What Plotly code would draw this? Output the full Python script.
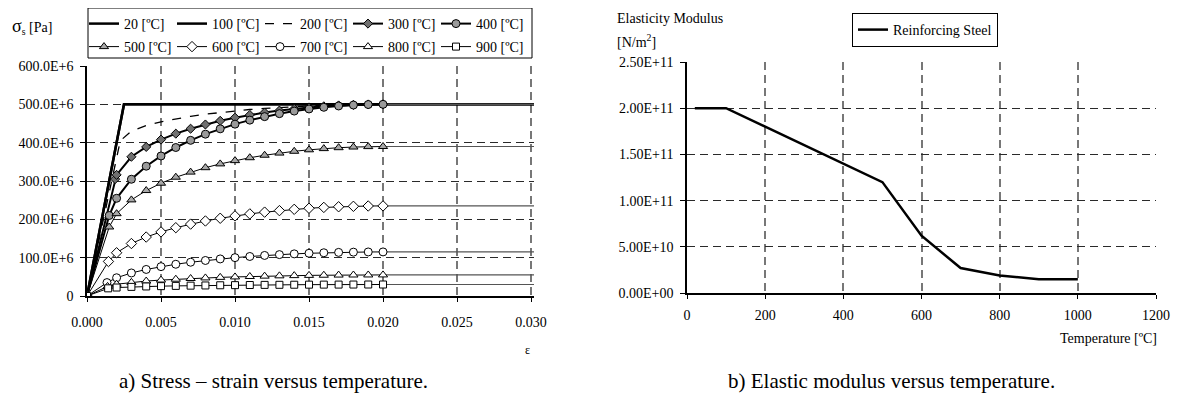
import plotly.graph_objects as go

# ---------------- data: stress-strain (a) ----------------
TEMPS = ["20", "100", "200", "300", "400", "500", "600", "700", "800", "900"]
STRAIN_CURVE = [0.002, 0.003, 0.004, 0.005, 0.006, 0.007, 0.008, 0.009, 0.010,
                0.011, 0.012, 0.013, 0.014, 0.015, 0.016, 0.017, 0.018, 0.019, 0.020]
STRAIN_END = 0.0302

# 20 / 100 ºC (linear-elastic then plateau), MPa
STRAIN_20 = [0.0, 0.0025, 0.0302]
STRESS_20 = [0.0, 500.0, 500.0]
STRAIN_100 = [0.0, 0.0025, 0.0302]
STRESS_100 = [0.0, 500.0, 500.0]

# 200 ºC (dashed, no markers)
STRAIN_200 = [0.0, 0.00225, 0.003, 0.004, 0.005, 0.006, 0.007, 0.008, 0.009, 0.010,
              0.011, 0.012, 0.013, 0.014, 0.015, 0.016, 0.017, 0.018, 0.019, 0.020, 0.0302]
STRESS_200 = [0.0, 405.0, 430.3, 444.5, 454.5, 462.3, 468.8, 474.2, 478.9, 483.0,
              486.5, 489.5, 492.1, 494.2, 496.0, 497.5, 498.6, 499.4, 499.8, 500.0, 500.0]

# proportional-limit strains
EPS_P_300 = 0.0019
EPS_P_400 = 0.0015
EPS_P_500 = 0.0015
EPS_P_600 = 0.00145
EPS_P_700 = 0.00135
EPS_P_800 = 0.00139
EPS_P_900 = 0.00143

STRESS_300 = [0, 305, 316.0, 363.2, 388.9, 408.0, 423.5, 436.4, 447.4, 457.0, 465.2,
              472.3, 478.5, 483.7, 488.2, 491.9, 494.8, 497.1, 498.7, 499.7, 500.0]
STRESS_400 = [0, 210, 254.9, 304.6, 338.6, 365.3, 387.4, 406.1, 422.2, 436.1, 448.3,
              458.8, 467.9, 475.7, 482.4, 487.9, 492.3, 495.7, 498.1, 499.5, 500.0]
STRESS_500 = [0, 180, 214.7, 250.7, 275.1, 294.2, 309.9, 323.2, 334.7, 344.6, 353.2,
              360.7, 367.2, 372.8, 377.5, 381.4, 384.5, 386.9, 388.6, 389.7, 390.0]
STRESS_600 = [0, 90, 112.8, 136.9, 153.8, 167.2, 178.2, 187.6, 195.7, 202.8, 208.9,
              214.2, 218.8, 222.7, 226.1, 228.9, 231.1, 232.8, 234.0, 234.8, 235.0]
STRESS_700 = [0, 35, 47.6, 60.1, 69.3, 76.6, 82.8, 88.1, 92.7, 96.7, 100.1,
              103.1, 105.8, 108.0, 109.9, 111.5, 112.8, 113.8, 114.4, 114.9, 115.0]
STRESS_800 = [0, 25, 30.8, 35.6, 39.0, 41.6, 43.8, 45.6, 47.2, 48.6, 49.8,
              50.9, 51.8, 52.6, 53.2, 53.8, 54.2, 54.6, 54.8, 54.9, 55.0]
STRESS_900 = [0, 20, 22.1, 23.8, 24.9, 25.7, 26.4, 27.0, 27.5, 28.0, 28.3,
              28.7, 29.0, 29.2, 29.4, 29.6, 29.7, 29.8, 29.9, 30.0, 30.0]

X_TICKS_A = [0.0, 0.005, 0.010, 0.015, 0.020, 0.025, 0.030]
X_TICKTEXT_A = ["0.000", "0.005", "0.010", "0.015", "0.020", "0.025", "0.030"]
Y_TICKS_A = [0, 100e6, 200e6, 300e6, 400e6, 500e6, 600e6]
Y_TICKTEXT_A = ["0", "100.0E+6", "200.0E+6", "300.0E+6", "400.0E+6", "500.0E+6", "600.0E+6"]

# ---------------- data: elastic modulus (b) ----------------
TEMPERATURE = [20, 100, 200, 300, 400, 500, 600, 700, 800, 900, 1000]
E_MODULUS = [2.0e11, 2.0e11, 1.8e11, 1.6e11, 1.4e11, 1.2e11, 6.2e10, 2.7e10, 1.9e10, 1.5e10, 1.5e10]
X_TICKS_B = [0, 200, 400, 600, 800, 1000, 1200]
Y_TICKS_B = [0, 5e10, 1e11, 1.5e11, 2e11, 2.5e11]
Y_TICKTEXT_B = ["0.00E+00", "5.00E+10", "1.00E+11", "1.50E+11", "2.00E+11", "2.50E+11"]

FONT = "Liberation Serif, Times New Roman, serif"
PAGE_OFFSET = 8          # default page margin around the plot div
W, H = 1180 - PAGE_OFFSET, 394 - PAGE_OFFSET


def px(v):
    return (v - PAGE_OFFSET) / W


def py(v):
    return 1 - (v - PAGE_OFFSET) / H


def pa(lst):
    return [v * 1e6 for v in lst]


fig = go.Figure()

# 20 and 100
fig.add_trace(go.Scatter(x=STRAIN_20, y=pa(STRESS_20), mode="lines", name="20 [ºC]",
                         line=dict(color="black", width=2.5), legend="legend"))
fig.add_trace(go.Scatter(x=STRAIN_100, y=pa(STRESS_100), mode="lines", name="100 [ºC]",
                         line=dict(color="black", width=2.5), legend="legend"))
fig.add_trace(go.Scatter(x=STRAIN_200, y=pa(STRESS_200), mode="lines", name="200 [ºC]",
                         line=dict(color="black", width=1.3, dash="dash"), legend="legend"))

series = [
    ("300 [ºC]", EPS_P_300, STRESS_300, "diamond", 7, "#707070", 2.0, "legend"),
    ("400 [ºC]", EPS_P_400, STRESS_400, "circle", 8, "#9a9a9a", 2.0, "legend"),
    ("500 [ºC]", EPS_P_500, STRESS_500, "triangle-up", 8, "#a8a8a8", 1.0, "legend2"),
    ("600 [ºC]", EPS_P_600, STRESS_600, "diamond", 8, "white", 1.0, "legend2"),
    ("700 [ºC]", EPS_P_700, STRESS_700, "circle", 8, "white", 1.0, "legend2"),
    ("800 [ºC]", EPS_P_800, STRESS_800, "triangle-up", 8, "white", 1.0, "legend2"),
    ("900 [ºC]", EPS_P_900, STRESS_900, "square", 7, "white", 1.0, "legend2"),
]

# plateau extensions (beyond 0.020)
for name, epsp, stress, sym, size, fill, lw, leg in series:
    fig.add_trace(go.Scatter(x=[STRAIN_CURVE[-1], STRAIN_END], y=pa([stress[-1], stress[-1]]),
                             mode="lines", line=dict(color="#555555", width=1.2),
                             showlegend=False, hoverinfo="skip"))

for name, epsp, stress, sym, size, fill, lw, leg in series:
    xs = [0.0, epsp] + STRAIN_CURVE
    fig.add_trace(go.Scatter(
        x=xs, y=pa(stress), mode="lines+markers", name=name, legend=leg,
        line=dict(color="black", width=lw),
        marker=dict(symbol=sym, size=size, color=fill, line=dict(color="black", width=1)),
    ))

# right chart
fig.add_trace(go.Scatter(x=TEMPERATURE, y=E_MODULUS, mode="lines", name="Reinforcing Steel",
                         line=dict(color="black", width=2.5), xaxis="x2", yaxis="y2",
                         legend="legend3"))

axis_common = dict(
    showgrid=True, griddash="8px,5px",
    showline=True, linecolor="black", linewidth=1.5, ticks="outside",
    tickcolor="black", zeroline=False, tickfont=dict(family=FONT, size=14, color="black"),
    fixedrange=True, automargin=False,
)
xgrid = dict(gridcolor="#777777", gridwidth=1.5)
ygrid = dict(gridcolor="#2a2a2a", gridwidth=1)

fig.update_layout(
    width=W, height=H, margin=dict(l=0, r=0, t=0, b=0, pad=0, autoexpand=False),
    paper_bgcolor="white", plot_bgcolor="white",
    font=dict(family=FONT, size=14, color="black"),
    xaxis=dict(axis_common, **xgrid, domain=[px(87), px(534)], range=[0, STRAIN_END],
               tickvals=X_TICKS_A, ticktext=X_TICKTEXT_A, ticklen=4, ticklabelstandoff=8,
               anchor="y"),
    yaxis=dict(axis_common, **ygrid, domain=[py(296), py(66)], range=[0, 600e6],
               tickvals=Y_TICKS_A, ticktext=Y_TICKTEXT_A, ticklen=5, ticklabelstandoff=4,
               anchor="x"),
    xaxis2=dict(axis_common, **xgrid, domain=[px(687), px(1156)], range=[0, 1200],
                tickvals=X_TICKS_B, ticklen=4, ticklabelstandoff=4, anchor="y2"),
    yaxis2=dict(axis_common, **ygrid, domain=[py(293), py(62)], range=[0, 2.5e11],
                tickvals=Y_TICKS_B, ticktext=Y_TICKTEXT_B, ticklen=5, ticklabelstandoff=4,
                anchor="x2"),
    legend=dict(orientation="h", x=px(84), y=py(8), xanchor="left", yanchor="top",
                bgcolor="rgba(0,0,0,0)", borderwidth=0, entrywidth=43,
                font=dict(family=FONT, size=14), itemwidth=30, tracegroupgap=0),
    legend2=dict(orientation="h", x=px(84), y=py(31), xanchor="left", yanchor="top",
                 bgcolor="rgba(0,0,0,0)", borderwidth=0, entrywidth=43,
                 font=dict(family=FONT, size=14), itemwidth=30),
    legend3=dict(orientation="h", x=px(852), y=py(13), xanchor="left", yanchor="top",
                 bgcolor="white", bordercolor="black", borderwidth=1,
                 font=dict(family=FONT, size=14), itemwidth=30),
    shapes=[dict(type="rect", xref="paper", yref="paper", x0=px(88), x1=px(532),
                 y0=py(58), y1=py(8), line=dict(color="black", width=1))],
    annotations=[
        dict(text="<span style='font-size:18px'>σ</span><sub>s</sub> [Pa]", x=px(10), y=py(27),
             xref="paper", yref="paper", xanchor="left", yanchor="middle", showarrow=False,
             font=dict(family=FONT, size=14)),
        dict(text="ε", x=px(527), y=py(350), xref="paper", yref="paper", xanchor="center",
             yanchor="middle", showarrow=False, font=dict(family=FONT, size=12)),
        dict(text="Elasticity Modulus", x=px(615), y=py(19), xref="paper", yref="paper",
             xanchor="left", yanchor="middle", showarrow=False, font=dict(family=FONT, size=14)),
        dict(text="[N/m<sup>2</sup>]", x=px(615), y=py(41), xref="paper", yref="paper",
             xanchor="left", yanchor="middle", showarrow=False, font=dict(family=FONT, size=14)),
        dict(text="Temperature [ºC]", x=px(1159), y=py(338), xref="paper", yref="paper",
             xanchor="right", yanchor="middle", showarrow=False, font=dict(family=FONT, size=14)),
        dict(text="a) Stress – strain versus temperature.", x=px(273), y=py(381), xref="paper",
             yref="paper", xanchor="center", yanchor="middle", showarrow=False,
             font=dict(family=FONT, size=21)),
        dict(text="b) Elastic modulus versus temperature.", x=px(891), y=py(381), xref="paper",
             yref="paper", xanchor="center", yanchor="middle", showarrow=False,
             font=dict(family=FONT, size=21)),
    ],
)

fig.write_html("out.html")
